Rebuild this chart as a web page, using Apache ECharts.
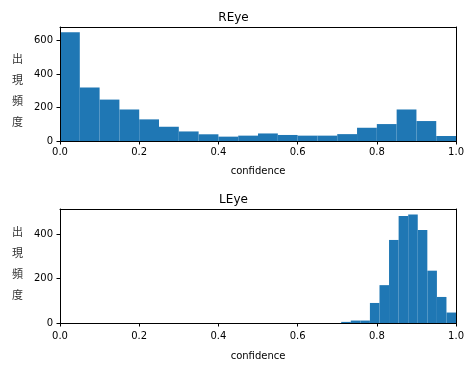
<!DOCTYPE html>
<html>
<head>
<meta charset="utf-8">
<script src="https://cdn.jsdelivr.net/npm/echarts@6/dist/echarts.min.js"></script>
<style>
html,body{margin:0;padding:0;background:#fff;}
#chart{width:467px;height:365px;}
</style>
</head>
<body>
<div id="chart"></div>
<script>
// ---- data ----
const titles = ['REye', 'LEye'];
const xName = 'confidence';
const yName = '出\n現\n頻\n度';
const xTicks = [0, 0.2, 0.4, 0.6, 0.8, 1.0];

const rEyeEdges = [0, 0.05, 0.1, 0.15, 0.2, 0.25, 0.3, 0.35, 0.4, 0.45, 0.5, 0.55, 0.6, 0.65, 0.7, 0.75, 0.8, 0.85, 0.9, 0.95, 1.0];
const rEyeCounts = [648, 319, 247, 188, 129, 85, 57, 40, 26, 32, 45, 36, 32, 32, 41, 79, 101, 188, 119, 30];
const rEyeYTicks = [0, 200, 400, 600];
const rEyeYMax = 680;

const lEyeEdges = [0.71, 0.7342, 0.7583, 0.7825, 0.8067, 0.8308, 0.855, 0.8792, 0.9033, 0.9275, 0.9517, 0.9758, 1.0];
const lEyeCounts = [5, 11, 11, 90, 170, 373, 481, 487, 418, 235, 117, 47];
const lEyeYTicks = [0, 200, 400];
const lEyeYMax = 512;

// ---- build ----
function toBins(edges, counts) {
  return counts.map((c, i) => [edges[i], edges[i + 1], c]);
}
const FONT = 'DejaVu Sans';
const grids = [
  {left: 60, right: 9, top: 27, height: 114},
  {left: 60, right: 9, top: 209, height: 114}
];
const yMaxes = [rEyeYMax, lEyeYMax];
const yTicks = [rEyeYTicks, lEyeYTicks];
const binsAll = [toBins(rEyeEdges, rEyeCounts), toBins(lEyeEdges, lEyeCounts)];
const xNameGaps = [25, 28];
const xLabelMargins = [6, 8];
const yNameTops = [48, 221];

const xAxis = [], yAxis = [], series = [], title = [], graphic = [];
grids.forEach((g, i) => {
  title.push({
    text: titles[i], left: 'center', top: g.top - 20,
    textStyle: {fontFamily: FONT, fontSize: 12, fontWeight: 'normal', color: '#000'}
  });
  graphic.push({
    type: 'text', left: 12, top: yNameTops[i],
    style: {text: yName, fontFamily: 'Noto Sans CJK JP', fontSize: 11, fill: '#333', lineHeight: 21, align: 'left'}
  });
  // main x
  xAxis.push({
    type: 'value', gridIndex: i, min: 0, max: 1, interval: 0.2, z: 5,
    name: xName, nameLocation: 'middle', nameGap: xNameGaps[i],
    nameTextStyle: {fontFamily: FONT, fontSize: 10, color: '#000'},
    axisLine: {show: true, onZero: false, lineStyle: {color: '#000', width: 1}},
    axisTick: {show: true, length: 3.5, inside: false, lineStyle: {color: '#000'}, customValues: xTicks},
    axisLabel: {fontFamily: FONT, fontSize: 10, color: '#000', margin: xLabelMargins[i],
      customValues: xTicks, formatter: v => v.toFixed(1)},
    splitLine: {show: false}
  });
  // top spine
  xAxis.push({
    type: 'value', gridIndex: i, min: 0, max: 1, position: 'top', z: 5,
    axisLine: {show: true, onZero: false, lineStyle: {color: '#000', width: 1}},
    axisTick: {show: false}, axisLabel: {show: false}, splitLine: {show: false}
  });
  yAxis.push({
    type: 'value', gridIndex: i, min: 0, max: yMaxes[i], z: 5,
    axisLine: {show: true, onZero: false, lineStyle: {color: '#000', width: 1}},
    axisTick: {show: true, length: 3.5, inside: false, lineStyle: {color: '#000'}, customValues: yTicks[i]},
    axisLabel: {fontFamily: FONT, fontSize: 10, color: '#000', margin: 7, customValues: yTicks[i]},
    splitLine: {show: false}
  });
  yAxis.push({
    type: 'value', gridIndex: i, min: 0, max: yMaxes[i], position: 'right', z: 5,
    axisLine: {show: true, onZero: false, lineStyle: {color: '#000', width: 1}},
    axisTick: {show: false}, axisLabel: {show: false}, splitLine: {show: false}
  });
  series.push({
    type: 'custom', xAxisIndex: i * 2, yAxisIndex: i * 2,
    data: binsAll[i],
    encode: {x: [0, 1], y: 2},
    silent: true,
    renderItem: function (params, api) {
      const p0 = api.coord([api.value(0), api.value(2)]);
      const p1 = api.coord([api.value(1), 0]);
      return {
        type: 'rect',
        shape: {x: p0[0], y: p0[1], width: p1[0] - p0[0], height: p1[1] - p0[1]},
        style: {fill: '#1f77b4'}
      };
    }
  });
});

const chart = echarts.init(document.getElementById('chart'), null, {renderer: 'canvas'});
chart.setOption({
  animation: false,
  backgroundColor: '#fff',
  title: title,
  grid: grids,
  xAxis: xAxis,
  yAxis: yAxis,
  graphic: graphic,
  series: series
});
</script>
</body>
</html>
